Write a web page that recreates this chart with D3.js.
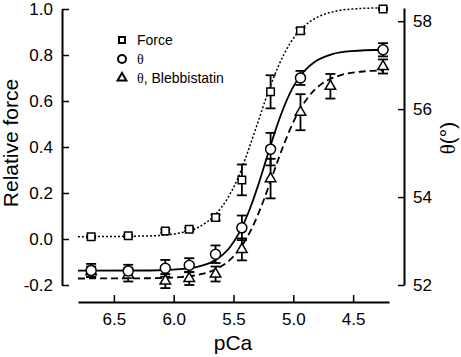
<!DOCTYPE html>
<html>
<head>
<meta charset="utf-8">
<script src="https://cdn.jsdelivr.net/npm/d3@7"></script>
<style>
  body { margin: 0; background: #fff; }
  svg { font-family: "Liberation Sans", Arial, sans-serif; }
</style>
</head>
<body>
<svg id="drawing_region"></svg>
<script>
// measured points
const pCa = [6.69, 6.38, 6.07, 5.87, 5.65, 5.43, 5.19, 4.94, 4.25];
const force = [0.010, 0.014, 0.035, 0.042, 0.093, 0.257, 0.640, 0.905, 1.000];
const forceErr = [0.005, 0.005, 0.007, 0.007, 0.012, 0.067, 0.072, 0.012, 0.004];
const theta = [52.33, 52.32, 52.38, 52.45, 52.70, 53.30, 55.09, 56.71, 57.35];
const thetaErr = [0.15, 0.14, 0.19, 0.16, 0.20, 0.28, 0.37, 0.16, 0.15];
const pCaBleb = [6.69, 6.38, 6.07, 5.87, 5.65, 5.43, 5.19, 4.94, 4.69, 4.25];
const thetaBleb = [52.30, 52.23, 52.09, 52.15, 52.25, 52.81, 54.42, 55.93, 56.52, 56.97];
const thetaBlebErr = [0.12, 0.15, 0.16, 0.15, 0.17, 0.25, 0.45, 0.41, 0.28, 0.16];

// fitted curves
const forceFitP = [6.80, 6.20, 5.95, 5.78, 5.655, 5.546, 5.46, 5.38, 5.295, 5.211, 5.127, 5.027, 4.925, 4.793, 4.65, 4.483, 4.25];
const forceFitV = [0.010, 0.0135, 0.026, 0.055, 0.104, 0.180, 0.268, 0.380, 0.509, 0.638, 0.749, 0.851, 0.917, 0.966, 0.990, 1.001, 1.005];
const thetaFitP = [6.80, 6.20, 5.95, 5.78, 5.655, 5.53, 5.446, 5.362, 5.295, 5.228, 5.161, 5.094, 5.01, 4.925, 4.80, 4.676, 4.51, 4.25];
const thetaFitV = [52.325, 52.33, 52.36, 52.43, 52.56, 52.86, 53.22, 53.74, 54.26, 54.84, 55.42, 55.94, 56.46, 56.81, 57.11, 57.25, 57.32, 57.35];
const blebFitP = [6.80, 6.20, 5.95, 5.78, 5.655, 5.53, 5.43, 5.345, 5.26, 5.17, 5.077, 4.985, 4.876, 4.76, 4.607, 4.44, 4.25];
const blebFitV = [52.148, 52.154, 52.18, 52.24, 52.35, 52.57, 52.89, 53.30, 53.84, 54.52, 55.21, 55.79, 56.27, 56.58, 56.77, 56.85, 56.88];

const xTicks = [6.5, 6.0, 5.5, 5.0, 4.5];
const leftTicks = [-0.2, 0.0, 0.2, 0.4, 0.6, 0.8, 1.0];
const rightTicks = [52, 54, 56, 58];
const legendLabels = ["Force", "\u03b8", "\u03b8, Blebbistatin"];

const W = 461, H = 357;
const svg = d3.select("#drawing_region").attr("width", W).attr("height", H);

const x = d3.scaleLinear().domain([6.8, 4.2]).range([78, 389]);
const yL = d3.scaleLinear().domain([-0.2, 1.0]).range([285, 9]);
const yR = d3.scaleLinear().domain([52, 58.3]).range([285, 8]);

// axes
const fmt = d => d.toFixed(1);
const gL = svg.append("g").attr("transform", "translate(62,0)")
  .call(d3.axisLeft(yL).tickValues(leftTicks).tickFormat(fmt)
    .tickSizeInner(-7).tickSizeOuter(0).tickPadding(9));
const gR = svg.append("g").attr("transform", "translate(404,0)")
  .call(d3.axisRight(yR).tickValues(rightTicks).tickFormat(d3.format("d"))
    .tickSizeInner(-6).tickSizeOuter(0).tickPadding(9));
const gB = svg.append("g").attr("transform", "translate(0,302)")
  .call(d3.axisBottom(x).tickValues(xTicks).tickFormat(fmt)
    .tickSizeInner(-7).tickSizeOuter(0).tickPadding(11));

[gL, gR, gB].forEach(g => {
  g.select(".domain").attr("stroke", "#000").attr("stroke-width", 2);
  g.selectAll(".tick line").attr("stroke", "#000").attr("stroke-width", 1.5);
  g.selectAll(".tick text").attr("fill", "#000").style("font-size", "17px")
    .style("font-family", "'Liberation Sans', Arial, sans-serif");
});

// axis titles
svg.append("text").attr("transform", "translate(18,143) rotate(-90)")
  .attr("text-anchor", "middle").style("font-size", "21px").text("Relative force");
svg.append("text").attr("x", 233).attr("y", 350)
  .attr("text-anchor", "middle").style("font-size", "21px").text("pCa");
const tR = svg.append("text").attr("transform", "translate(455,138) rotate(-90)")
  .attr("text-anchor", "middle").style("font-size", "21px");
tR.append("tspan").style("font-family", "'Liberation Serif', serif").text("\u03b8");
tR.append("tspan").text("(\u00b0)");

// fitted curves
const zip = (ps, vs) => ps.map((p, i) => ({p: p, v: vs[i]}));
const lineL = d3.line().x(d => x(d.p)).y(d => yL(d.v)).curve(d3.curveMonotoneX);
const lineR = d3.line().x(d => x(d.p)).y(d => yR(d.v)).curve(d3.curveMonotoneX);

svg.append("path").attr("d", lineL(zip(forceFitP, forceFitV)))
  .attr("fill", "none").attr("stroke", "#000").attr("stroke-width", 1.5)
  .attr("stroke-dasharray", "2,2");
svg.append("path").attr("d", lineR(zip(thetaFitP, thetaFitV)))
  .attr("fill", "none").attr("stroke", "#000").attr("stroke-width", 1.8);
svg.append("path").attr("d", lineR(zip(blebFitP, blebFitV)))
  .attr("fill", "none").attr("stroke", "#000").attr("stroke-width", 1.8)
  .attr("stroke-dasharray", "7,4");

// error bars
function errBars(ps, vs, es, y) {
  const g = svg.append("g").attr("stroke", "#000").attr("stroke-width", 1.8);
  ps.forEach((p, i) => {
    const cx = x(p), y1 = y(vs[i] + es[i]), y0 = y(vs[i] - es[i]);
    g.append("line").attr("x1", cx).attr("x2", cx).attr("y1", y0).attr("y2", y1);
    g.append("line").attr("x1", cx - 5).attr("x2", cx + 5).attr("y1", y1).attr("y2", y1);
    g.append("line").attr("x1", cx - 5).attr("x2", cx + 5).attr("y1", y0).attr("y2", y0);
  });
}
errBars(pCa, force, forceErr, yL);
errBars(pCa, theta, thetaErr, yR);
errBars(pCaBleb, thetaBleb, thetaBlebErr, yR);

// markers
const sq = d3.symbol().type(d3.symbolSquare).size(56);
const tri = d3.symbol().type(d3.symbolTriangle).size(48);

function markers(ps, vs, y, kind) {
  const g = svg.append("g");
  ps.forEach((p, i) => {
    const cx = x(p), cy = y(vs[i]);
    if (kind === "circle") {
      g.append("circle").attr("cx", cx).attr("cy", cy).attr("r", 5)
        .attr("fill", "#fff").attr("stroke", "#000").attr("stroke-width", 1.5);
    } else {
      g.append("path").attr("d", kind === "square" ? sq() : tri())
        .attr("transform", `translate(${cx},${cy})`)
        .attr("fill", "#fff").attr("stroke", "#000").attr("stroke-width", 1.5);
    }
  });
}
markers(pCaBleb, thetaBleb, yR, "triangle");
markers(pCa, theta, yR, "circle");
markers(pCa, force, yL, "square");

// legend
const legend = svg.append("g");
const kinds = ["square", "circle", "triangle"];
kinds.forEach((k, i) => {
  const ly = 40 + i * 19;
  if (k === "circle") {
    legend.append("circle").attr("cx", 122).attr("cy", ly).attr("r", 4)
      .attr("fill", "#fff").attr("stroke", "#000").attr("stroke-width", 2);
  } else {
    const s = k === "square" ? d3.symbol().type(d3.symbolSquare).size(36)
                             : d3.symbol().type(d3.symbolTriangle).size(34);
    legend.append("path").attr("d", s()).attr("transform", `translate(122,${ly})`)
      .attr("fill", "#fff").attr("stroke", "#000").attr("stroke-width", 2);
  }
  const t = legend.append("text").attr("x", 137).attr("y", ly + 5).style("font-size", "14px");
  const lab = legendLabels[i];
  if (lab.startsWith("\u03b8")) {
    t.append("tspan").style("font-family", "'Liberation Serif', serif").text("\u03b8");
    t.append("tspan").text(lab.slice(1));
  } else {
    t.text(lab);
  }
});
</script>
</body>
</html>
